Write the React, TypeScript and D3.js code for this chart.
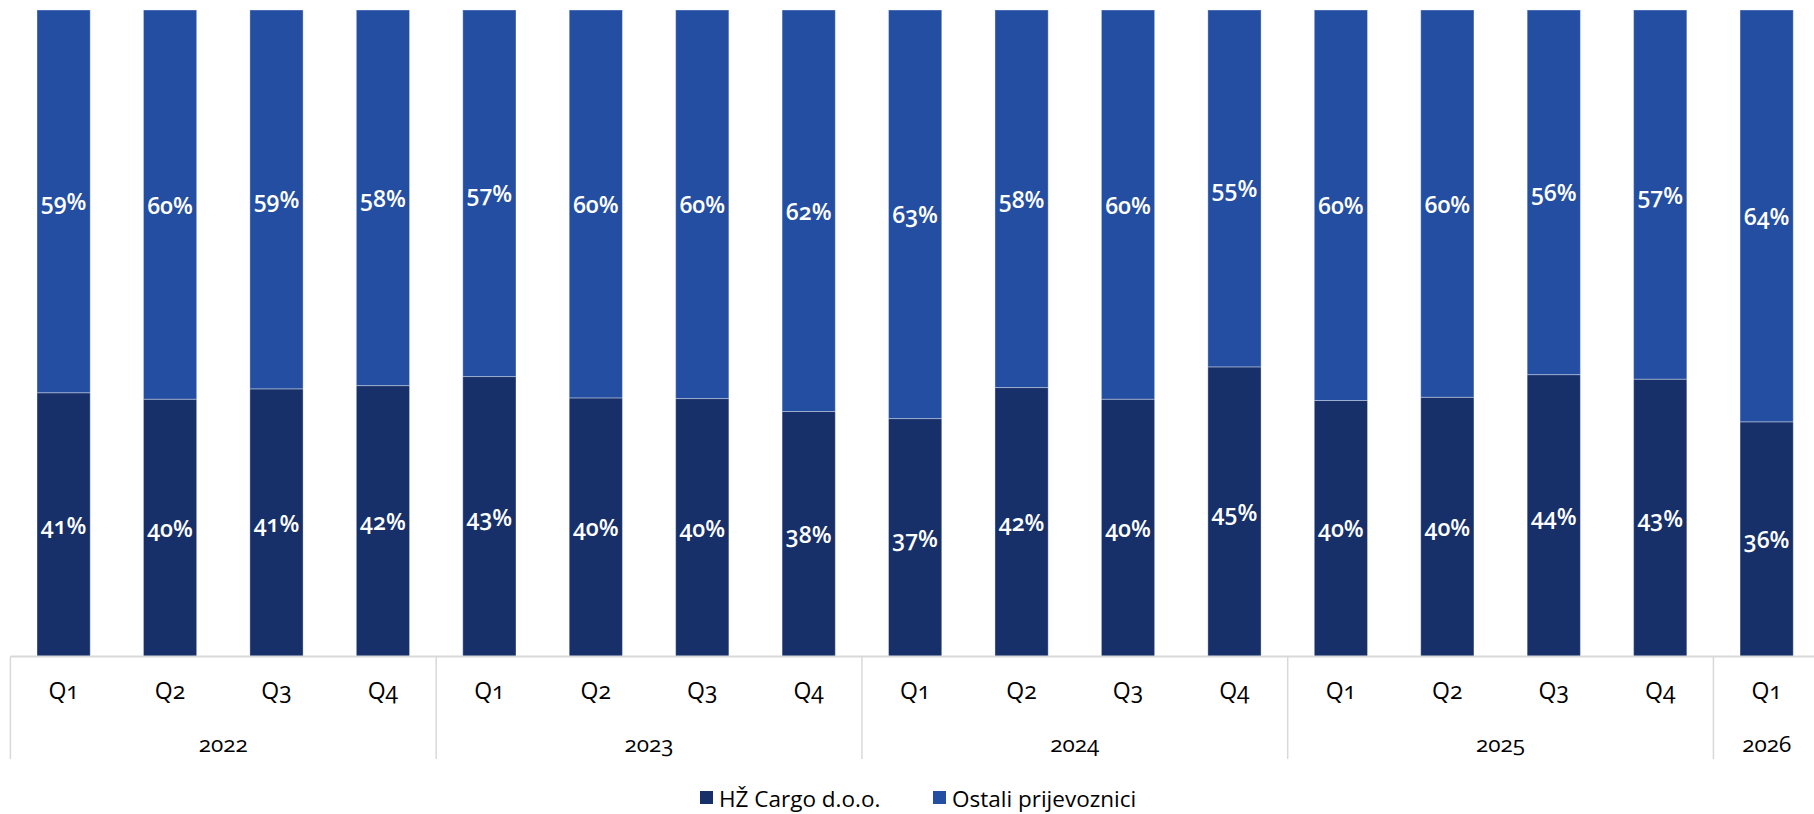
import React from "react";
import * as d3 from "d3";

const quarters = ["Q1", "Q2", "Q3", "Q4", "Q1", "Q2", "Q3", "Q4", "Q1", "Q2", "Q3", "Q4", "Q1", "Q2", "Q3", "Q4", "Q1"];
const years = ["2022", "2023", "2024", "2025", "2026"];
const yearSizes = [4, 4, 4, 4, 1];
const hzCargo = [40.8, 39.8, 41.4, 41.9, 43.3, 40.0, 39.9, 37.9, 36.8, 41.6, 39.8, 44.8, 39.6, 40.1, 43.6, 42.9, 36.3];
const ostali = [59.2, 60.2, 58.6, 58.1, 56.7, 60.0, 60.1, 62.1, 63.2, 58.4, 60.2, 55.2, 60.4, 59.9, 56.4, 57.1, 63.7];
const seriesNames = ["HŽ Cargo d.o.o.", "Ostali prijevoznici"];

const W = 1814;
const H = 814;
const DARK = "#17306A";
const LIGHT = "#244EA2";
const FONT = "'Open Sans', 'Noto Sans', sans-serif";

export default function App() {
  const x0 = 10.4;
  const step = 106.44;
  const x = d3
    .scaleBand<number>()
    .domain(d3.range(quarters.length))
    .range([x0, x0 + step * quarters.length])
    .paddingInner(0.5)
    .paddingOuter(0.25);
  const y = d3.scaleLinear().domain([0, 100]).range([656.5, 10]);

  const rows = quarters.map((q, i) => ({ i, q, a: hzCargo[i], b: ostali[i] }));
  const stack = d3.stack<any>().keys(["a", "b"])(rows as any);
  const colors = [DARK, LIGHT];

  const s = x.step();
  const bounds: { year: string; start: number; end: number }[] = [];
  let acc = 0;
  years.forEach((yr, k) => {
    bounds.push({ year: yr, start: x0 + acc * s, end: x0 + (acc + yearSizes[k]) * s });
    acc += yearSizes[k];
  });

  const axisY = y(0);
  const labelStyle: React.CSSProperties = { fontVariantNumeric: "oldstyle-nums" };

  return (
    <svg
      width={W}
      height={H}
      style={{ position: "absolute", left: 0, top: 0, background: "#fff" }}
      fontFamily={FONT}
    >
      {stack.map((layer, li) => (
        <g key={li}>
          {layer.map((d, i) => (
            <rect
              key={i}
              x={x(i)}
              y={y(d[1])}
              width={x.bandwidth()}
              height={y(d[0]) - y(d[1])}
              fill={colors[li]}
              stroke="#ffffff"
              strokeOpacity={0.35}
              strokeWidth={1}
            />
          ))}
          {layer.map((d, i) => (
            <text
              key={"t" + i}
              x={(x(i) as number) + x.bandwidth() / 2}
              y={(y(d[0]) + y(d[1])) / 2}
              textAnchor="middle"
              dominantBaseline="central"
              fill="#fff"
              fontWeight={600}
              fontSize={23}
              style={labelStyle}
            >
              {Math.round(d[1] - d[0]) + "%"}
            </text>
          ))}
        </g>
      ))}

      <line x1={x0} x2={W} y1={axisY} y2={axisY} stroke="#d9d9d9" strokeWidth={2} />
      {bounds.map((b, k) => (
        <line key={"v" + k} x1={b.start} x2={b.start} y1={axisY} y2={759} stroke="#d9d9d9" strokeWidth={1.5} />
      ))}
      {quarters.map((q, i) => (
        <text
          key={"q" + i}
          x={(x(i) as number) + x.bandwidth() / 2}
          y={690}
          textAnchor="middle"
          dominantBaseline="central"
          fontSize={23}
          fill="#000"
          style={labelStyle}
        >
          {q}
        </text>
      ))}
      {bounds.map((b, k) => (
        <text
          key={"y" + k}
          x={(b.start + b.end) / 2}
          y={743}
          textAnchor="middle"
          dominantBaseline="central"
          fontSize={22.5}
          fill="#000"
          style={labelStyle}
        >
          {b.year}
        </text>
      ))}

      <g>
        <rect x={700} y={791} width={13} height={13} fill={DARK} />
        <text x={719} y={798} dominantBaseline="central" fontSize={22.5} fill="#000">
          {seriesNames[0]}
        </text>
        <rect x={933} y={791} width={13} height={13} fill={LIGHT} />
        <text x={952} y={798} dominantBaseline="central" fontSize={22.5} fill="#000">
          {seriesNames[1]}
        </text>
      </g>
    </svg>
  );
}
